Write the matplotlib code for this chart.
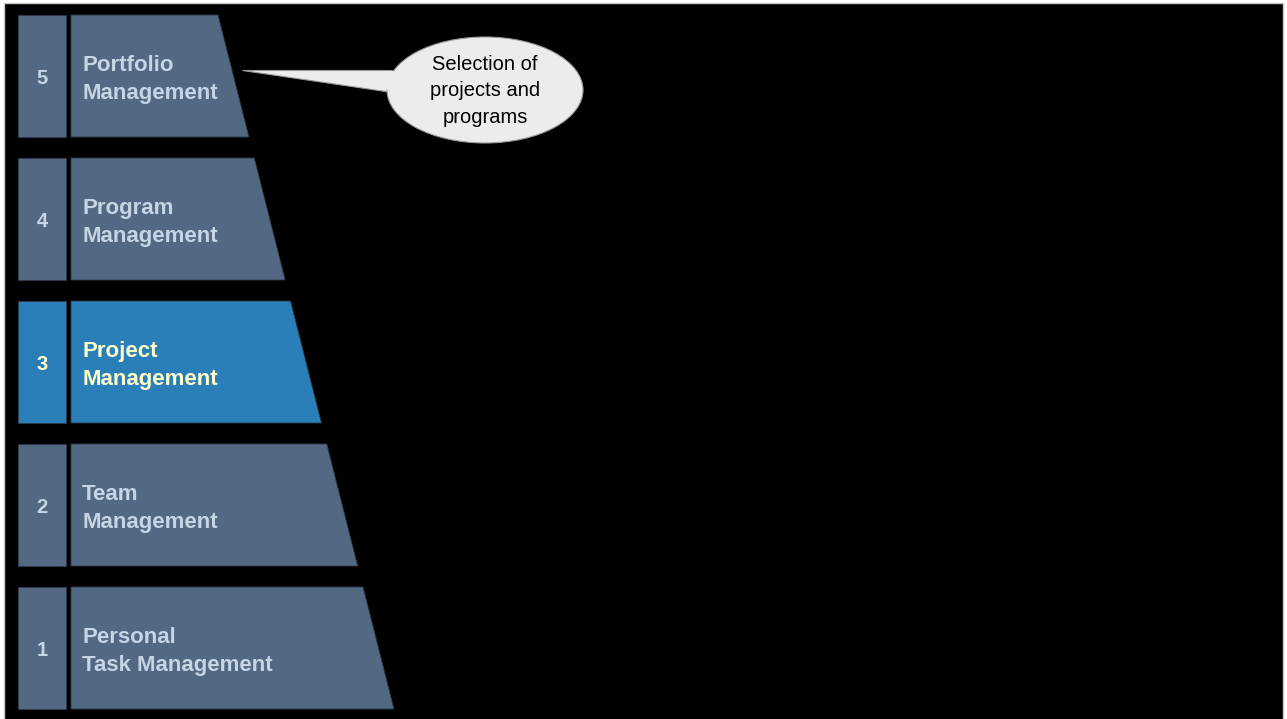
import matplotlib.pyplot as plt
from matplotlib.patches import Polygon, Rectangle, Ellipse

# levels, bottom to top
levels = [1, 2, 3, 4, 5]
labels = ['Personal\nTask Management', 'Team\nManagement', 'Project\nManagement',
          'Program\nManagement', 'Portfolio\nManagement']
highlight = 3
callout_text = 'Selection of\nprojects and\nprograms'
callout_level = 5

W, H = 1287, 719
fig = plt.figure(figsize=(W / 100, H / 100), dpi=100, facecolor='white')
ax = fig.add_axes([0, 0, 1, 1])
ax.set_xlim(0, W)
ax.set_ylim(H, 0)
ax.axis('off')

# black slide area
ax.add_patch(Rectangle((4, 3), 1279, 720, facecolor='black', edgecolor='#c8c8c8', lw=1))

slate = '#536882'
blue = '#2a7fb8'
top_y = 15
row_h = 122
pitch = 143
x_num0, x_num1 = 18, 66
x_box0 = 71
# outer slanted edge: a single line through all rows
edge_x0, edge_slope = 218, 0.2535

for lv, lab in zip(levels, labels):
    i = 5 - lv
    y0 = top_y + i * pitch
    y1 = y0 + row_h
    fc = blue if lv == highlight else slate
    tc = '#ffffcc' if lv == highlight else '#c5d5e6'
    ax.add_patch(Rectangle((x_num0, y0), x_num1 - x_num0, row_h, facecolor=fc,
                           edgecolor='#2e3b4a', lw=0.6))
    xr0 = edge_x0 + edge_slope * (y0 - top_y)
    xr1 = edge_x0 + edge_slope * (y1 - top_y)
    ax.add_patch(Polygon([(x_box0, y0), (xr0, y0), (xr1, y1), (x_box0, y1)],
                         closed=True, facecolor=fc, edgecolor='#2e3b4a', lw=0.6))
    yc = (y0 + y1) / 2
    ax.text((x_num0 + x_num1) / 2, yc + 2.5, str(lv), color=tc, fontsize=14.5,
            fontweight='bold', ha='center', va='center', family='Liberation Sans')
    ax.text(82, yc + 3.5, lab, color=tc, fontsize=16, fontweight='bold', ha='left',
            va='center', family='Liberation Sans', linespacing=1.4)

# callout bubble
cx, cy, ew, eh = 485, 90, 196, 106
ax.add_patch(Polygon([(242, 70), (392, 70), (392, 92)], closed=True,
                     facecolor='#ececec', edgecolor='#9a9a9a', lw=0.8))
ax.add_patch(Ellipse((cx, cy), ew, eh, facecolor='#ececec', edgecolor='#9a9a9a', lw=0.8))
ax.add_patch(Polygon([(300, 75), (396, 71), (396, 91)], closed=True,
                     facecolor='#ececec', edgecolor='none'))
ax.text(cx, cy + 1, callout_text, color='black', fontsize=14.5, ha='center',
        va='center', family='Liberation Sans', linespacing=1.52)

fig.savefig('out.png', dpi=100, facecolor='white')
